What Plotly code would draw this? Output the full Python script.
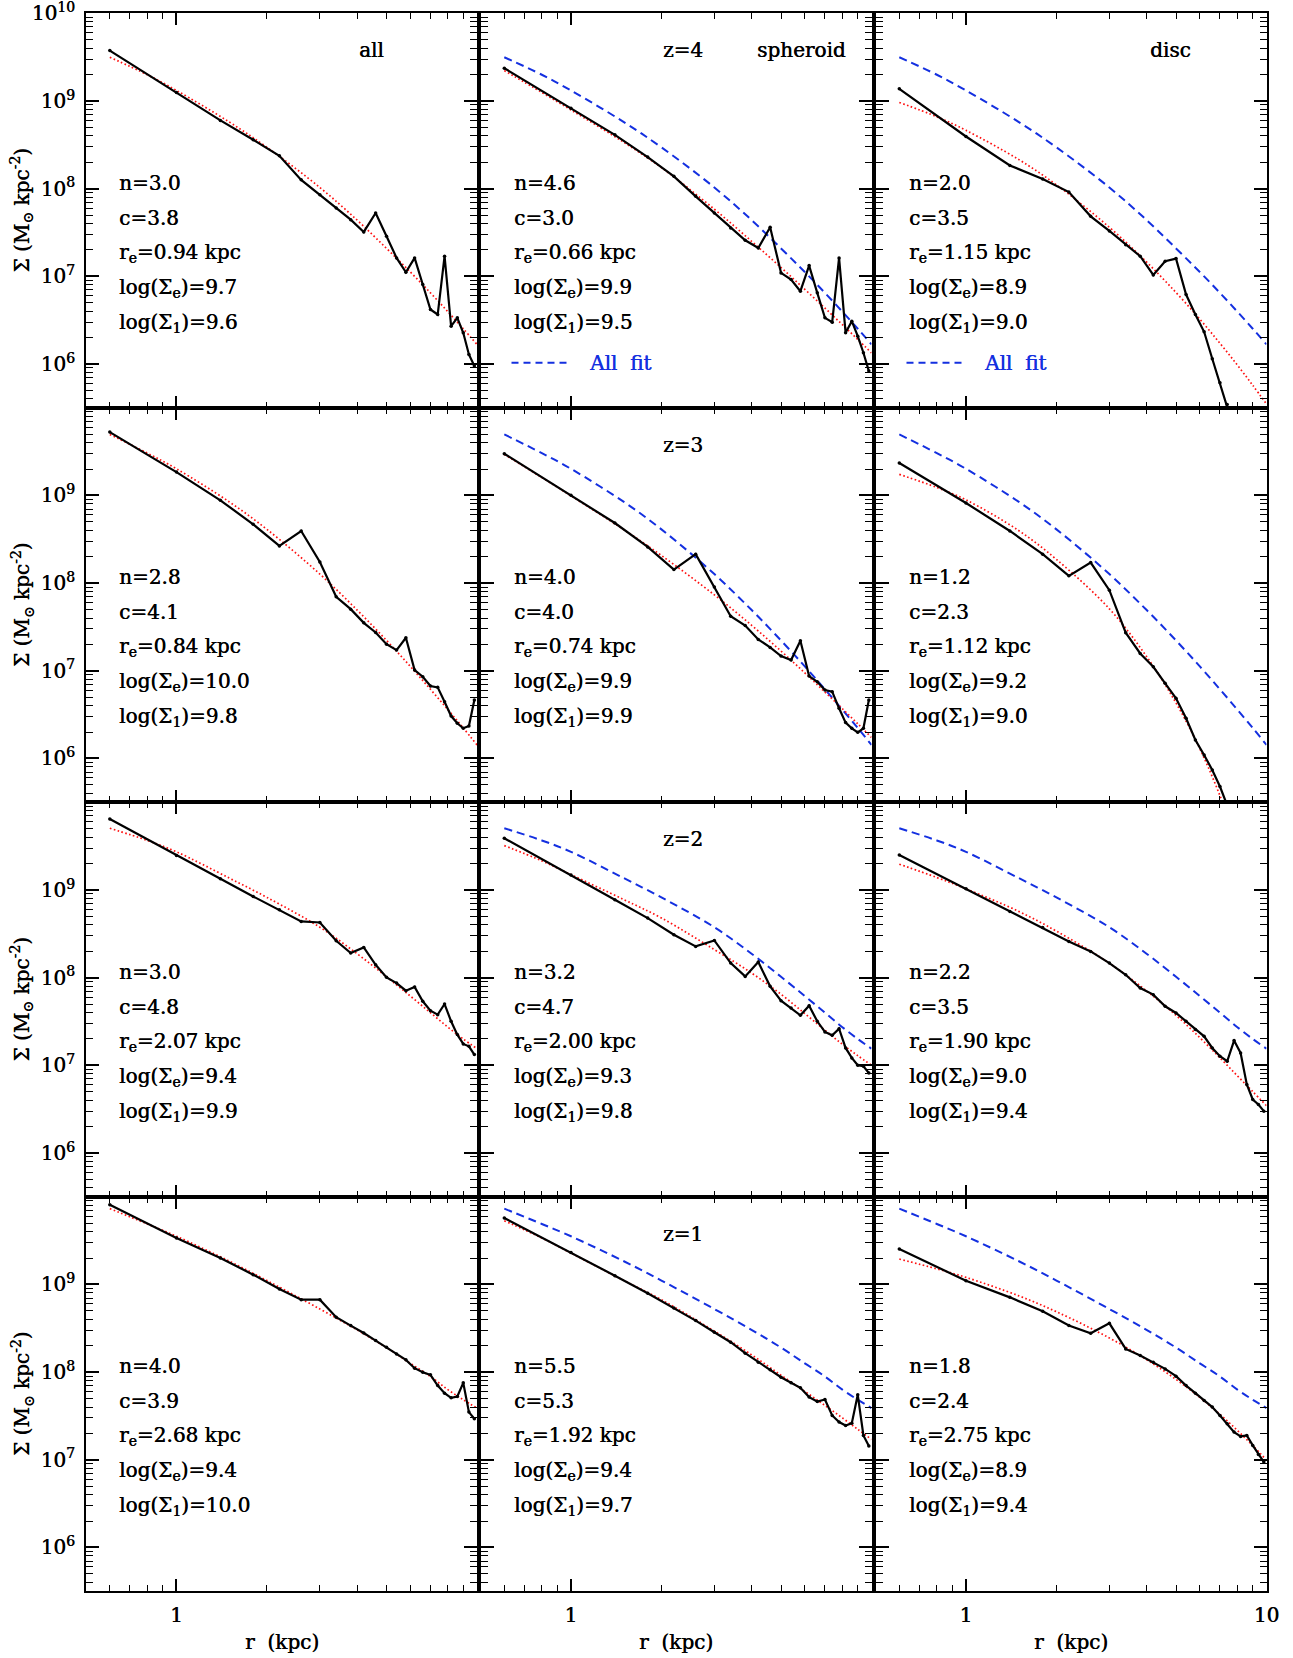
import math
import plotly.graph_objects as go

# ---------------------------------------------------------------- data
# radial bins of the measured surface-density profiles (kpc)
R_PROF = [0.6, 1.0, 1.4, 1.8, 2.2, 2.6, 3.0, 3.4, 3.8, 4.2, 4.6, 5.0,
          5.4, 5.8, 6.2, 6.6, 7.0, 7.4, 7.8, 8.2, 8.6, 9.0, 9.4, 9.8]
# radii at which the fitted profiles are tabulated (kpc)
R_FIT = [0.6, 0.8, 1.0, 1.5, 2.0, 3.0, 4.0, 5.0, 6.0, 7.0, 8.0, 9.0, 10.0]

REDSHIFTS = ["z=4", "z=3", "z=2", "z=1"]
COMPONENTS = ["all", "spheroid", "disc"]

# log10 Sigma (Msun kpc^-2), measured profiles
PROF_Z4_ALL = [9.575, 9.096, 8.778, 8.557, 8.375, 8.10, 7.931, 7.779, 7.646, 7.506, 7.722, 7.456,
               7.21, 7.046, 7.21, 6.906, 6.621, 6.564, 7.229, 6.431, 6.526, 6.355, 6.109, 5.976]
PROF_Z4_SPH = [9.374, 8.916, 8.614, 8.360, 8.140, 7.912, 7.722, 7.551, 7.411, 7.323, 7.559, 7.039,
               6.963, 6.830, 7.122, 6.811, 6.526, 6.477, 7.210, 6.355, 6.488, 6.317, 6.128, 5.919]
PROF_Z4_DISC = [9.138, 8.595, 8.265, 8.109, 7.961, 7.684, 7.517, 7.361, 7.229, 7.016, 7.172, 7.202,
                6.792, 6.564, 6.367, 6.059, 5.786, 5.539, 5.254]

PROF_Z3_ALL = [9.723, 9.267, 8.945, 8.671, 8.424, 8.595, 8.242, 7.844, 7.703, 7.547, 7.437, 7.304,
               7.236, 7.377, 7.008, 6.932, 6.826, 6.811, 6.648, 6.484, 6.401, 6.344, 6.371, 6.667]
PROF_Z3_SPH = [9.476, 9.002, 8.686, 8.413, 8.155, 8.330, 7.957, 7.623, 7.517, 7.358, 7.267, 7.168,
               7.122, 7.342, 6.940, 6.875, 6.781, 6.762, 6.572, 6.409, 6.344, 6.298, 6.344, 6.667]
PROF_Z3_DISC = [9.370, 8.914, 8.595, 8.330, 8.083, 8.235, 7.920, 7.434, 7.198, 7.046, 6.857, 6.686,
                6.458, 6.211, 6.040, 5.869, 5.680, 5.471, 5.262]

PROF_Z2_ALL = [9.810, 9.393, 9.127, 8.926, 8.774, 8.641, 8.629, 8.421, 8.280, 8.345, 8.147, 8.003,
               7.938, 7.851, 7.893, 7.730, 7.623, 7.578, 7.699, 7.502, 7.350, 7.244, 7.217, 7.122]
PROF_Z2_SPH = [9.590, 9.172, 8.888, 8.679, 8.489, 8.356, 8.424, 8.166, 8.014, 8.178, 7.901, 7.737,
               7.654, 7.570, 7.680, 7.502, 7.380, 7.342, 7.418, 7.198, 7.084, 7.001, 6.989, 6.913]
PROF_Z2_DISC = [9.400, 9.013, 8.755, 8.573, 8.413, 8.299, 8.166, 8.033, 7.882, 7.806, 7.673, 7.597,
                7.502, 7.407, 7.331, 7.198, 7.103, 7.046, 7.282, 7.141, 6.781, 6.610, 6.553, 6.477]

PROF_Z1_ALL = [9.909, 9.529, 9.301, 9.112, 8.948, 8.827, 8.827, 8.626, 8.531, 8.447, 8.360, 8.284,
               8.208, 8.140, 8.045, 7.999, 7.969, 7.847, 7.760, 7.707, 7.722, 7.878, 7.544, 7.468]
PROF_Z1_SPH = [9.757, 9.366, 9.100, 8.899, 8.732, 8.588, 8.455, 8.341, 8.216, 8.113, 8.026, 7.942,
               7.878, 7.821, 7.715, 7.665, 7.688, 7.506, 7.430, 7.392, 7.418, 7.741, 7.278, 7.156]
PROF_Z1_DISC = [9.404, 9.043, 8.853, 8.694, 8.531, 8.443, 8.557, 8.265, 8.189, 8.113, 8.037, 7.954,
                7.847, 7.760, 7.677, 7.601, 7.506, 7.411, 7.316, 7.267, 7.278, 7.164, 7.061, 6.974]

# log10 Sigma of the fitted profiles at R_FIT (the "all" fit is also overplotted
# on the spheroid and disc panels as "All fit")
FIT_Z4_ALL = [9.499, 9.299, 9.120, 8.759, 8.471, 8.013, 7.638, 7.318, 7.049, 6.811, 6.596, 6.402, 6.223]
FIT_Z4_SPH = [9.347, 9.097, 8.898, 8.528, 8.240, 7.765, 7.396, 7.100, 6.851, 6.637, 6.448, 6.280, 6.126]
FIT_Z4_DISC = [8.983, 8.820, 8.665, 8.331, 8.043, 7.559, 7.159, 6.815, 6.511, 6.236, 5.987, 5.757, 5.543]

FIT_Z3_ALL = [9.696, 9.483, 9.304, 8.926, 8.613, 8.103, 7.690, 7.346, 7.050, 6.789, 6.557, 6.348, 6.155]
FIT_Z3_SPH = [9.468, 9.205, 8.996, 8.609, 8.315, 7.866, 7.516, 7.225, 6.976, 6.758, 6.567, 6.396, 6.240]
FIT_Z3_DISC = [9.241, 9.091, 8.950, 8.598, 8.270, 7.707, 7.157, 6.633, 6.112, 5.576, 5.025, None, None]

FIT_Z2_ALL = [9.704, 9.565, 9.435, 9.135, 8.915, 8.575, 8.270, 8.010, 7.790, 7.600, 7.435, 7.300, 7.190]
FIT_Z2_SPH = [9.506, 9.332, 9.175, 8.890, 8.680, 8.320, 8.050, 7.810, 7.590, 7.400, 7.240, 7.110, 7.000]
FIT_Z2_DISC = [9.294, 9.142, 9.013, 8.755, 8.530, 8.165, 7.845, 7.570, 7.315, 7.085, 6.880, 6.700, 6.540]

FIT_Z1_ALL = [9.865, 9.690, 9.550, 9.265, 9.045, 8.720, 8.480, 8.280, 8.100, 7.950, 7.800, 7.685, 7.590]
FIT_Z1_SPH = [9.727, 9.530, 9.358, 9.045, 8.826, 8.468, 8.195, 7.965, 7.780, 7.620, 7.478, 7.348, 7.232]
FIT_Z1_DISC = [9.290, 9.178, 9.081, 8.870, 8.689, 8.390, 8.140, 7.917, 7.712, 7.518, 7.335, 7.162, 6.996]

PROFILES = [[PROF_Z4_ALL, PROF_Z4_SPH, PROF_Z4_DISC],
            [PROF_Z3_ALL, PROF_Z3_SPH, PROF_Z3_DISC],
            [PROF_Z2_ALL, PROF_Z2_SPH, PROF_Z2_DISC],
            [PROF_Z1_ALL, PROF_Z1_SPH, PROF_Z1_DISC]]
FITS = [[FIT_Z4_ALL, FIT_Z4_SPH, FIT_Z4_DISC],
        [FIT_Z3_ALL, FIT_Z3_SPH, FIT_Z3_DISC],
        [FIT_Z2_ALL, FIT_Z2_SPH, FIT_Z2_DISC],
        [FIT_Z1_ALL, FIT_Z1_SPH, FIT_Z1_DISC]]

# fit parameters printed in each panel
N_VAL = [["3.0", "4.6", "2.0"], ["2.8", "4.0", "1.2"], ["3.0", "3.2", "2.2"], ["4.0", "5.5", "1.8"]]
C_VAL = [["3.8", "3.0", "3.5"], ["4.1", "4.0", "2.3"], ["4.8", "4.7", "3.5"], ["3.9", "5.3", "2.4"]]
RE_VAL = [["0.94", "0.66", "1.15"], ["0.84", "0.74", "1.12"], ["2.07", "2.00", "1.90"], ["2.68", "1.92", "2.75"]]
LOGSE_VAL = [["9.7", "9.9", "8.9"], ["10.0", "9.9", "9.2"], ["9.4", "9.3", "9.0"], ["9.4", "9.4", "8.9"]]
LOGS1_VAL = [["9.6", "9.5", "9.0"], ["9.8", "9.9", "9.0"], ["9.9", "9.8", "9.4"], ["10.0", "9.7", "9.4"]]

Y_MAJOR = [1e6, 1e7, 1e8, 1e9, 1e10]
Y_MAJOR_TEXT = ["10<sup>6</sup>", "10<sup>7</sup>", "10<sup>8</sup>", "10<sup>9</sup>", "10<sup>10</sup>"]
Y_MINOR = [m * 10 ** e for e in range(5, 10) for m in range(2, 10)]
X_MAJOR = [1, 10]
X_MINOR = [0.6, 0.7, 0.8, 0.9, 2, 3, 4, 5, 6, 7, 8, 9]

# ---------------------------------------------------------------- layout
W, H = 1293, 1658
COL_PX = [(86.0, 477.0), (480.5, 871.5), (875.5, 1266.5)]
ROW_PX = [(13.3, 407.8), (407.8, 802.3), (802.3, 1196.8), (1196.8, 1591.3)]
PW = 391.0
PH = 394.5

FONT = "DejaVu Serif"
BLACK = "#000000"
RED = "#ff1010"
BLUE = "#1430e0"
TXT = 20
# a slight horizontal text shadow gives the heavier stroke of the plotting font
HEAVY_K = "0.45px 0 0 #000000"
HEAVY_B = "0.45px 0 0 " + BLUE


def tfont(size=TXT, color=BLACK, shadow=HEAVY_K):
    return dict(family=FONT, size=size, color=color, shadow=shadow)


fig = go.Figure()
layout = dict(
    width=W, height=H, autosize=False,
    margin=dict(l=0, r=0, t=0, b=0, pad=0, autoexpand=False),
    paper_bgcolor="white", plot_bgcolor="white",
    showlegend=False,
    font=dict(family=FONT, size=TXT, color=BLACK),
)
annotations = []
shapes = []


def sig(vals):
    return [None if v is None else 10 ** v for v in vals]


for row in range(4):
    for col in range(3):
        k = row * 3 + col + 1
        xa = "x" if k == 1 else f"x{k}"
        ya = "y" if k == 1 else f"y{k}"
        x0, x1 = COL_PX[col]
        y0, y1 = ROW_PX[row]

        layout["xaxis" if k == 1 else f"xaxis{k}"] = dict(
            type="log", range=[math.log10(0.5), 1.0],
            domain=[x0 / W, x1 / W], anchor=ya, automargin=False,
            showline=True, linewidth=2, linecolor=BLACK, mirror="ticks",
            showgrid=False, zeroline=False,
            ticks="inside", ticklen=12, tickwidth=1.6, tickcolor=BLACK,
            tickmode="array", tickvals=X_MAJOR,
            ticktext=["1", "10" if col == 2 else ""],
            showticklabels=(row == 3), ticklabeloverflow="allow",
            tickfont=tfont(20),
            ticklabelstandoff=5,
            minor=dict(ticks="inside", ticklen=6, tickwidth=1.4, tickcolor=BLACK,
                       tickmode="array", tickvals=X_MINOR, showgrid=False),
        )
        layout["yaxis" if k == 1 else f"yaxis{k}"] = dict(
            type="log", range=[5.5, 10.0],
            domain=[1 - y1 / H, 1 - y0 / H], anchor=xa, automargin=False,
            showline=True, linewidth=2, linecolor=BLACK, mirror="ticks",
            showgrid=False, zeroline=False,
            ticks="inside", ticklen=13, tickwidth=1.6, tickcolor=BLACK,
            tickmode="array", tickvals=Y_MAJOR,
            ticktext=Y_MAJOR_TEXT if row == 0 else Y_MAJOR_TEXT[:-1] + [""],
            showticklabels=(col == 0), ticklabeloverflow="allow",
            tickfont=tfont(20),
            ticklabelstandoff=5,
            minor=dict(ticks="inside", ticklen=7, tickwidth=1.4, tickcolor=BLACK,
                       tickmode="array", tickvals=Y_MINOR, showgrid=False),
        )

        # "All fit" comparison curve on the component panels
        if col > 0:
            fig.add_trace(go.Scatter(
                x=R_FIT, y=sig(FITS[row][0]), xaxis=xa, yaxis=ya,
                mode="lines", line=dict(color=BLUE, width=2, dash="8px,5px", shape="spline"),
                connectgaps=False, hoverinfo="skip"))
        # fitted profile
        fig.add_trace(go.Scatter(
            x=R_FIT, y=sig(FITS[row][col]), xaxis=xa, yaxis=ya,
            mode="lines", line=dict(color=RED, width=1.7, dash="1.6px,2.4px", shape="spline"),
            connectgaps=False, hoverinfo="skip"))
        # measured profile
        prof = PROFILES[row][col]
        fig.add_trace(go.Scatter(
            x=R_PROF[:len(prof)], y=sig(prof), xaxis=xa, yaxis=ya,
            mode="lines+markers", line=dict(color=BLACK, width=2.2),
            marker=dict(color=BLACK, size=3.5), hoverinfo="skip"))

        xd = f"{xa} domain"
        yd = f"{ya} domain"
        lines = [
            f"n={N_VAL[row][col]}",
            f"c={C_VAL[row][col]}",
            f"r<sub>e</sub>={RE_VAL[row][col]} kpc",
            f"log(Σ<sub>e</sub>)={LOGSE_VAL[row][col]}",
            f"log(Σ<sub>1</sub>)={LOGS1_VAL[row][col]}",
        ]
        for i, txt in enumerate(lines):
            annotations.append(dict(
                xref=xd, yref=yd, x=31 / PW, y=1 - (169.5 + 35 * i) / PH,
                xanchor="left", yanchor="middle", showarrow=False, text=txt,
                font=tfont()))

        if col == 1:
            annotations.append(dict(
                xref=xd, yref=yd, x=202.5 / PW, y=1 - 37 / PH,
                xanchor="center", yanchor="middle", showarrow=False,
                text=REDSHIFTS[row], font=tfont()))
        if row == 0:
            cx = [285 / PW, 321.2 / PW, 294.5 / PW][col]
            annotations.append(dict(
                xref=xd, yref=yd, x=cx, y=1 - 37 / PH,
                xanchor="center", yanchor="middle", showarrow=False,
                text=COMPONENTS[col], font=tfont()))
            if col > 0:
                ly = 1 - 349.4 / PH
                shapes.append(dict(
                    type="line", xref=xd, yref=yd, x0=31 / PW, x1=91 / PW, y0=ly, y1=ly,
                    line=dict(color=BLUE, width=2, dash="7px,5px")))
                annotations.append(dict(
                    xref=xd, yref=yd, x=106 / PW, y=ly,
                    xanchor="left", yanchor="middle", showarrow=False,
                    text="All  fit", font=tfont(color=BLUE, shadow=HEAVY_B)))

# axis titles
for row in range(4):
    yc = (ROW_PX[row][0] + ROW_PX[row][1]) / 2
    annotations.append(dict(
        xref="paper", yref="paper", x=22 / W, y=1 - yc / H,
        xanchor="center", yanchor="middle", showarrow=False, textangle=-90,
        text="Σ (M<sub>⊙</sub> kpc<sup>-2</sup>)", font=tfont()))
for col in range(3):
    xc = (COL_PX[col][0] + COL_PX[col][1]) / 2
    annotations.append(dict(
        xref="paper", yref="paper", x=xc / W, y=1 - 1642 / H,
        xanchor="center", yanchor="middle", showarrow=False,
        text="r  (kpc)", font=tfont()))

layout["annotations"] = annotations
layout["shapes"] = shapes
fig.update_layout(**layout)
fig.write_html("out.html")
